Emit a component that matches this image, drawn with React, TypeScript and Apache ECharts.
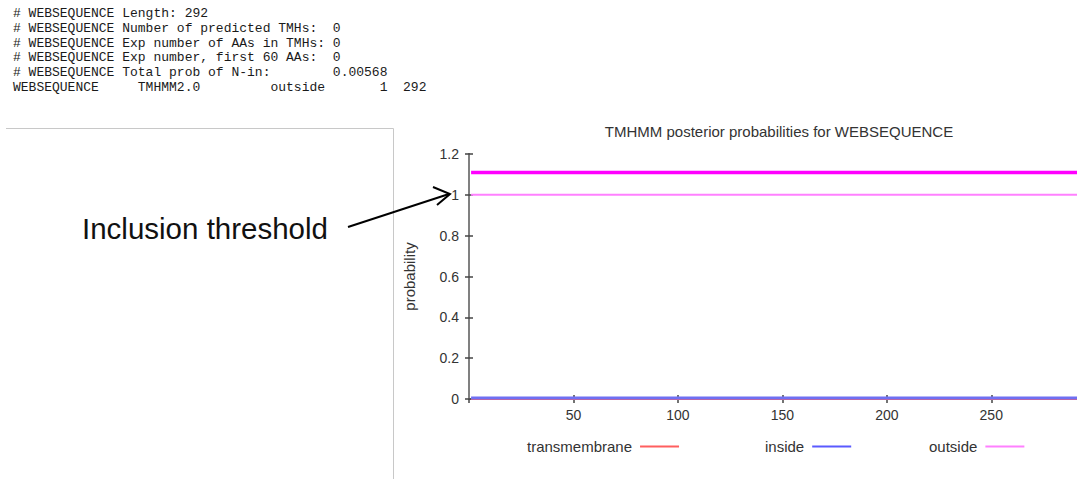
import React, { useEffect, useRef } from 'react';
import * as echarts from 'echarts';

// ---- data ----
const seqName = 'WEBSEQUENCE';
const seqLength = 292;
const predictedTMHs = 0;
const expAAsInTMHs = 0;
const expFirst60 = 0;
const probNin = 0.00568;
const topologyLabel = 'outside';
const topologyStart = 1;
const topologyEnd = 292;

const headerLines = [
  `# ${seqName} Length: ${seqLength}`,
  `# ${seqName} Number of predicted TMHs:  ${predictedTMHs}`,
  `# ${seqName} Exp number of AAs in TMHs: ${expAAsInTMHs}`,
  `# ${seqName} Exp number, first 60 AAs:  ${expFirst60}`,
  `# ${seqName} Total prob of N-in:        ${probNin}`,
  `${seqName}     TMHMM2.0         ${topologyLabel}       ${topologyStart}  ${topologyEnd}`,
];

const positions = [1, 292];
const transmembraneProb = [0, 0];
const insideProb = [0.005, 0.005];
const outsideProb = [1, 1];
const topologyOutside = [1.11, 1.11];

const xTicks = [0, 50, 100, 150, 200, 250];
const yTicks = [0, 0.2, 0.4, 0.6, 0.8, 1, 1.2];

const annotationText = 'Inclusion threshold';

const pair = (ys: number[]) => positions.map((x, i) => [x, ys[i]]);

export default function App() {
  const ref = useRef<HTMLDivElement>(null);
  useEffect(() => {
    if (!ref.current) return;
    const chart = echarts.init(ref.current, undefined, { renderer: 'svg' });
    const sans = 'Liberation Sans, Arial, sans-serif';
    const axisColor = '#808080';
    const tickStyle = { show: true, inside: true, length: 4, lineStyle: { color: '#444', width: 1.5 } };
    const legendBase = {
      top: 439,
      orient: 'horizontal',
      align: 'right',
      icon: 'rect',
      padding: 0,
      itemWidth: 39,
      itemHeight: 2,
      selectedMode: false,
      textStyle: { fontFamily: sans, fontSize: 15, color: '#333', padding: [0, 3, 0, 0] },
    };
    chart.setOption({
      animation: false,
      backgroundColor: '#ffffff',
      title: {
        text: `TMHMM posterior probabilities for ${seqName}`,
        left: 774,
        textAlign: 'center',
        top: 119,
        textStyle: { fontFamily: sans, fontSize: 15, fontWeight: 'normal', color: '#333' },
      },
      grid: { left: 469, top: 154, right: 11, bottom: 80 },
      legend: [
        { ...legendBase, left: 527, data: ['transmembrane'] },
        { ...legendBase, left: 765, data: ['inside'] },
        { ...legendBase, left: 929, data: ['outside'] },
      ],
      xAxis: [
        {
          type: 'value',
          position: 'bottom',
          min: xTicks[0],
          max: seqLength,
          interval: xTicks[1] - xTicks[0],
          axisLine: { lineStyle: { color: axisColor, width: 2 } },
          axisTick: tickStyle,
          axisLabel: {
            fontFamily: sans,
            fontSize: 14,
            color: '#333',
            margin: 9,
            showMinLabel: false,
            showMaxLabel: false,
          },
          splitLine: { show: false },
        },
        {
          type: 'value',
          position: 'top',
          min: xTicks[0],
          max: seqLength,
          interval: xTicks[1] - xTicks[0],
          axisLine: { lineStyle: { color: axisColor, width: 2 } },
          axisTick: tickStyle,
          axisLabel: { show: false },
          splitLine: { show: false },
        },
      ],
      yAxis: [
        {
          type: 'value',
          position: 'left',
          min: yTicks[0],
          max: yTicks[yTicks.length - 1],
          interval: yTicks[1] - yTicks[0],
          name: 'probability',
          nameLocation: 'middle',
          nameRotate: 90,
          nameGap: 52,
          nameTextStyle: { fontFamily: sans, fontSize: 15, color: '#333' },
          axisLine: { show: true, lineStyle: { color: axisColor, width: 2 } },
          axisTick: tickStyle,
          axisLabel: { fontFamily: sans, fontSize: 14, color: '#333', margin: 10 },
          splitLine: { show: false },
        },
        {
          type: 'value',
          position: 'right',
          min: yTicks[0],
          max: yTicks[yTicks.length - 1],
          interval: yTicks[1] - yTicks[0],
          axisLine: { show: true, lineStyle: { color: axisColor, width: 2 } },
          axisTick: tickStyle,
          axisLabel: { show: false },
          splitLine: { show: false },
        },
      ],
      series: [
        {
          name: 'transmembrane',
          type: 'line',
          data: pair(transmembraneProb),
          showSymbol: false,
          color: '#ff5f5f',
          lineStyle: { color: '#ff5f5f', width: 2 },
        },
        {
          name: 'inside',
          type: 'line',
          data: pair(insideProb),
          showSymbol: false,
          color: '#5a5aff',
          lineStyle: { color: '#6f6ff2', width: 3 },
        },
        {
          name: 'outside',
          type: 'line',
          data: pair(outsideProb),
          showSymbol: false,
          color: '#ff80ff',
          lineStyle: { color: '#ff80ff', width: 2 },
        },
        {
          name: 'outside topology',
          type: 'line',
          data: pair(topologyOutside),
          showSymbol: false,
          color: '#ff00ff',
          lineStyle: { color: '#ff00ff', width: 3.5 },
        },
      ],
      graphic: [
        ...headerLines.map((line, i) => ({
          type: 'text',
          left: 13,
          top: 14 + i * 14.8 - 7,
          style: {
            text: line,
            fontFamily: 'Liberation Mono, Courier New, monospace',
            fontSize: 13,
            fill: '#1a1a1a',
          },
        })),
        {
          type: 'line',
          shape: { x1: 6, y1: 128.5, x2: 393.5, y2: 128.5 },
          style: { stroke: '#c8c8c8', lineWidth: 1 },
        },
        {
          type: 'line',
          shape: { x1: 393.5, y1: 128.5, x2: 393.5, y2: 479 },
          style: { stroke: '#c8c8c8', lineWidth: 1 },
        },
        {
          type: 'text',
          x: 82,
          y: 228,
          style: {
            text: annotationText,
            fontFamily: sans,
            fontSize: 29.5,
            fill: '#111',
            verticalAlign: 'middle',
          },
        },
        {
          type: 'line',
          shape: { x1: 348, y1: 227, x2: 449, y2: 194 },
          style: { stroke: '#000', lineWidth: 2 },
        },
        {
          type: 'polyline',
          shape: { points: [[433, 187], [450, 194], [437, 205]] },
          style: { stroke: '#000', lineWidth: 2, fill: null },
        },
      ],
    });
    return () => chart.dispose();
  }, []);
  return (
    <div
      style={{
        position: 'fixed',
        left: 0,
        top: 0,
        width: 1077,
        height: 479,
        overflow: 'hidden',
        background: '#fff',
      }}
    >
      <div ref={ref} style={{ width: 1090, height: 479 }} />
    </div>
  );
}
